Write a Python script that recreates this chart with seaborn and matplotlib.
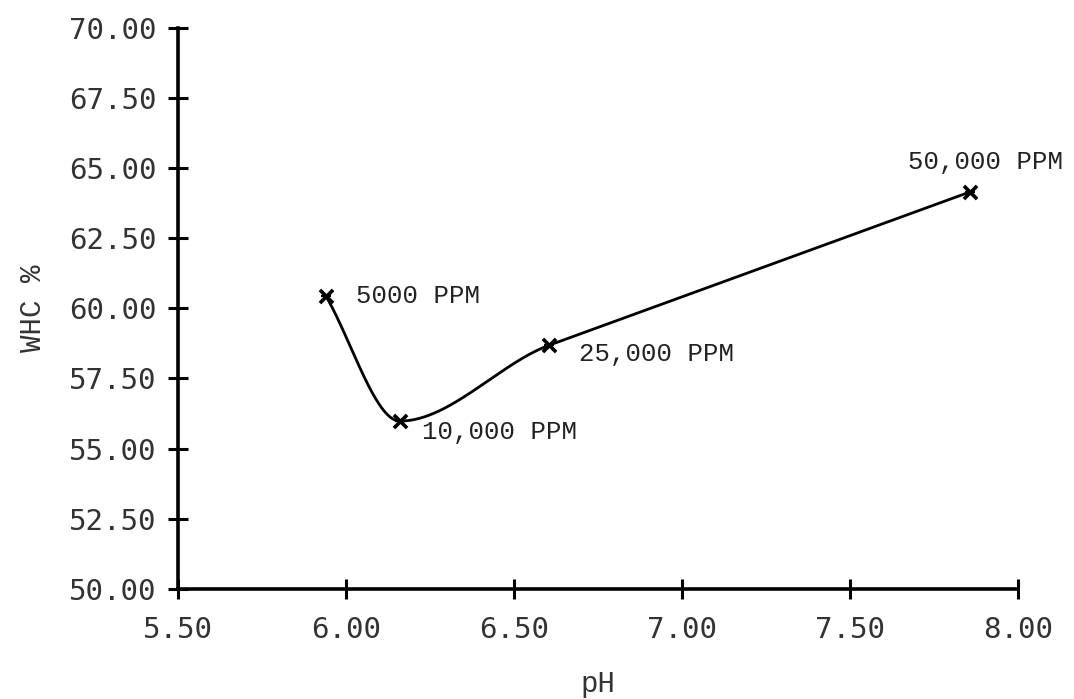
import numpy as np
import pandas as pd
import matplotlib
matplotlib.use("Agg")
import matplotlib.pyplot as plt
import seaborn as sns

# Water holding capacity against pH at each dose
doses = ["5000 PPM", "10,000 PPM", "25,000 PPM", "50,000 PPM"]
ph = [5.94, 6.16, 6.605, 7.857]
whc = [60.44, 55.98, 58.69, 64.16]

x_ticks = [5.50, 6.00, 6.50, 7.00, 7.50, 8.00]
y_ticks = [50.00, 52.50, 55.00, 57.50, 60.00, 62.50, 65.00, 67.50, 70.00]

# label offsets in points (dx, dy) relative to each marker
label_offsets = [(22, 0), (16, -8), (21, -6.5), (-45, 21.5)]


def tension_curve(x, y, n=600):
    """Piecewise cubic Hermite curve with tight, shape-preserving slopes:
    the gentler neighbouring secant at interior points (zero at turning
    points) and the end secant at both ends."""
    x = np.asarray(x, float)
    y = np.asarray(y, float)
    h = np.diff(x)
    delta = np.diff(y) / h
    k = len(x)
    d = np.zeros(k)
    d[0], d[-1] = delta[0], delta[-1]
    for i in range(1, k - 1):
        if delta[i - 1] * delta[i] > 0:
            d[i] = delta[i - 1] if abs(delta[i - 1]) < abs(delta[i]) else delta[i]
    xs = np.linspace(x[0], x[-1], n)
    idx = np.clip(np.searchsorted(x, xs) - 1, 0, k - 2)
    t = (xs - x[idx]) / h[idx]
    h00 = 2 * t ** 3 - 3 * t ** 2 + 1
    h10 = t ** 3 - 2 * t ** 2 + t
    h01 = -2 * t ** 3 + 3 * t ** 2
    h11 = t ** 3 - t ** 2
    ys = (h00 * y[idx] + h10 * h[idx] * d[idx]
          + h01 * y[idx + 1] + h11 * h[idx] * d[idx + 1])
    return xs, ys


sns.set_style("ticks")
plt.rcParams["font.family"] = ["DejaVu Sans Mono", "DejaVu Sans"]

fig = plt.figure(figsize=(10.74, 6.99), dpi=100)
ax = fig.add_axes([0.1657, 0.1578, 0.7826, 0.802])

sx, sy = tension_curve(ph, whc)
curve = pd.DataFrame({"pH": sx, "WHC": sy})
pts = pd.DataFrame({"pH": ph, "WHC": whc, "dose": doses})

sns.lineplot(data=curve, x="pH", y="WHC", ax=ax, color="black", lw=2.0,
             sort=False, estimator=None)
sns.scatterplot(data=pts, x="pH", y="WHC", ax=ax, marker="x", s=90,
                color="black", linewidth=2.6, zorder=3)
sns.scatterplot(data=pts, x="pH", y="WHC", ax=ax, marker="_", s=60,
                color="black", linewidth=1.6, zorder=3)

for d, px, py, (dx, dy) in zip(doses, ph, whc, label_offsets):
    ax.annotate(d, (px, py), xytext=(dx, dy), textcoords="offset points",
                ha="left", va="center", fontsize=18.5,
                family="Liberation Mono", color="#222222")

ax.set_xlim(5.5, 8.0)
ax.set_ylim(50, 70)
ax.set_xticks(x_ticks)
ax.set_yticks(y_ticks)
ax.set_xticklabels([f"{v:.2f}" for v in x_ticks])
ax.set_yticklabels([f"{v:.2f}" for v in y_ticks])

sns.despine(ax=ax)
for side in ("left", "bottom"):
    ax.spines[side].set_linewidth(2.6)
    ax.spines[side].set_color("black")
ax.tick_params(axis="both", direction="inout", length=15, width=2.2,
               colors="black", labelsize=21, labelcolor="#333333")
ax.tick_params(axis="y", pad=8)
ax.tick_params(axis="x", pad=12)

ax.set_xlabel("pH", family="Liberation Mono", fontsize=21, color="#333333",
              labelpad=19)
ax.set_ylabel("WHC %", family="Liberation Mono", fontsize=21, color="#333333",
              labelpad=16)

fig.savefig("out.png", dpi=100, facecolor="white")
